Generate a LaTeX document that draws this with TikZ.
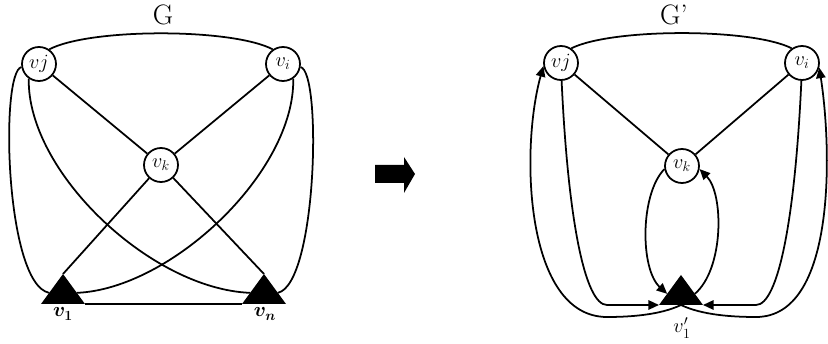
\documentclass[tikz,border=0pt]{standalone}
\usepackage{amsmath,amssymb}
\usetikzlibrary{arrows.meta, shapes.geometric}

\begin{document}
\begin{tikzpicture}[x=0.03cm, y=0.03cm, >={Triangle[length=9pt,width=8pt]},
  every node/.style={font=\fontsize{18}{20}\selectfont},
  vert/.style={circle, draw, line width=1.5pt, minimum size=1.02cm, inner sep=0pt},
  tri/.style={isosceles triangle, isosceles triangle stretches, shape border rotate=90,
    fill=black, minimum width=1.32cm, minimum height=0.9cm, inner sep=0pt, outer sep=0pt},
  edge/.style={line width=1.5pt},
  title/.style={font=\fontsize{24}{26}\selectfont, inner sep=0pt}]
\useasboundingbox (0,0) rectangle (828,344);

% graph G
\node[title, anchor=base] (gl) at (163,319) {G};
\node[vert] (vj) at (39,280) {$vj$};
\node[vert] (vi) at (283,280) {$v_i$};
\node[vert] (vk) at (161,179) {$v_k$};
\node[tri, anchor=south] (v1) at (63,40) {};
\node[tri, anchor=south] (vn) at (264,40) {};
\node[anchor=base] (l1) at (63,27) {$\boldsymbol{v_1}$};
\node[anchor=base] (ln) at (265,27) {$\boldsymbol{v_n}$};

\draw[edge] (vj.55) .. controls (90,316) and (232,316) .. (vi.125);
\draw[edge] (vj) -- (vk);
\draw[edge] (vi) -- (vk);
\draw[edge] (vk) -- (v1.apex);
\draw[edge] (vk) -- (vn.apex);
\draw[edge] (v1.right corner) -- (vn.left corner);
\draw[edge] (vj.190) .. controls (0,272) and (5,60) .. (v1.west);
\draw[edge] (vj.235) .. controls (27,172) and (151,55) .. (vn.west);
\draw[edge] (vi.305) .. controls (295,172) and (171,55) .. (v1.east);
\draw[edge] (vi.350) .. controls (322,272) and (317,60) .. (vn.east);

% arrow between
\fill (375,161) -- (404,161) -- (404,151) -- (415,170) -- (404,187) -- (404,179) -- (375,179) -- cycle;

% graph G'
\node[title, anchor=base west] (gr) at (660,319) {G\textquoteright};
\node[vert] (wj) at (561,281) {$vj$};
\node[vert] (wi) at (802,281) {$v_i$};
\node[vert] (wk) at (682,178) {$v_k$};
\node[tri, anchor=south] (w1) at (681,39) {};
\node[anchor=base] (lw) at (682,11) {$v'_1$};

\draw[edge] (wj.55) .. controls (612,316) and (752,316) .. (wi.125);
\draw[edge] (wj) -- (wk);
\draw[edge] (wi) -- (wk);
\draw[edge,->] (wk.190) .. controls (640,150) and (640,75) .. (w1.west);
\draw[edge,->] (w1.east) .. controls (724,75) and (724,150) .. (wk.350);
\draw[edge,->] (wj.272) .. controls (568,124) and (585,39) .. (607,39) -- (w1.left corner);
\draw[edge,->] (wi.268) .. controls (795,124) and (778,39) .. (756,39) -- (w1.right corner);
\draw[edge,->] (w1.south) .. controls (660,29) and (630,27) .. (607,27)
  .. controls (525,27) and (520,194) .. (wj.190);
\draw[edge,->] (w1.south) .. controls (702,29) and (732,27) .. (756,27)
  .. controls (836,27) and (832,194) .. (wi.345);
\end{tikzpicture}
\end{document}
